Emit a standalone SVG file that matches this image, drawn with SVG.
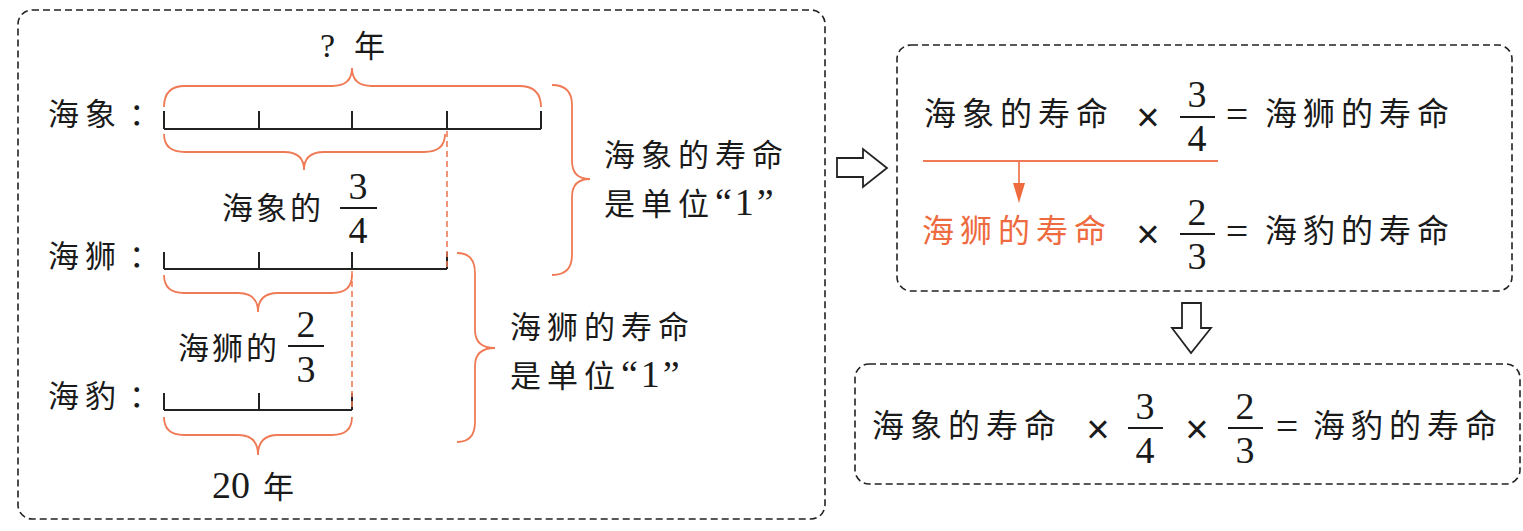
<svg xmlns="http://www.w3.org/2000/svg" width="1523" height="531" viewBox="0 0 1523 531">
<style>
.box{fill:none;stroke:#222;stroke-width:1.6;stroke-dasharray:7 4}
.bar{fill:none;stroke:#222;stroke-width:2}
.brace{fill:none;stroke:#EF7A55;stroke-width:1.8}
.dash{fill:none;stroke:#EF7A55;stroke-width:1.6;stroke-dasharray:6 4}
.cn{font-family:"Noto Sans CJK SC","Noto Sans CJK JP",sans-serif;font-size:31px;letter-spacing:6px;fill:#1a1a1a}
.cn2{font-family:"Noto Sans CJK SC","Noto Sans CJK JP",sans-serif;font-size:32px;letter-spacing:6px;fill:#1a1a1a}
.num{font-family:"Liberation Serif",serif;font-size:38px;fill:#1a1a1a;text-anchor:middle}
.op{font-family:"Liberation Sans",sans-serif;font-size:40px;fill:#1a1a1a;text-anchor:middle}
.eq{font-family:"Liberation Serif",serif;font-size:40px;fill:#1a1a1a;text-anchor:middle}
.ser{font-family:"Liberation Serif",serif;font-size:38px}
.frac{stroke:#1a1a1a;stroke-width:2}
.hollow{fill:#fff;stroke:#222;stroke-width:1.8;stroke-linejoin:miter}
</style>

<g id="left-panel">
  <rect class="box" x="18" y="10" width="807" height="509" rx="14"/>
</g>

<g id="label-question">
  <text class="cn" x="320" y="57"><tspan class="ser" style="font-size:34px">?</tspan> 年</text>
</g>

<g id="walrus">
  <text class="cn" x="48" y="125">海象<tspan x="129">：</tspan></text>
  <path class="bar" d="M164,129 H541 M164,111 V129 M259,111 V129 M352,111 V129 M447,111 V129 M541,111 V129"/>
</g>

<g id="sealion">
  <text class="cn" x="48" y="267">海狮<tspan x="129">：</tspan></text>
  <path class="bar" d="M164,269 H447 M164,252 V269 M259,252 V269 M352,252 V269 M447,252 V269"/>
</g>

<g id="seal">
  <text class="cn" x="48" y="407">海豹<tspan x="129">：</tspan></text>
  <path class="bar" d="M164,410 H352 M164,393 V410 M259,393 V410 M352,393 V410"/>
</g>

<g id="label-walrus-frac">
  <text class="cn" x="222" y="219" style="letter-spacing:3px">海象的</text>
  <line class="frac" x1="340" y1="208" x2="377" y2="208"/>
  <text class="num" x="358" y="199">3</text>
  <text class="num" x="358" y="243">4</text>
</g>

<g id="label-sealion-frac">
  <text class="cn" x="178" y="359" style="letter-spacing:3px">海狮的</text>
  <line class="frac" x1="288" y1="346" x2="324" y2="346"/>
  <text class="num" x="306" y="337">2</text>
  <text class="num" x="306" y="382">3</text>
</g>

<g id="label-20">
  <text class="cn" x="212" y="498"><tspan class="ser" style="letter-spacing:0">20</tspan> 年</text>
</g>

<g id="label-walrus-unit">
  <text class="cn" x="604" y="166">海象的寿命</text>
  <text class="cn" x="604" y="215">是单位<tspan class="ser" style="letter-spacing:3px">“1”</tspan></text>
</g>

<g id="label-sealion-unit">
  <text class="cn" x="510" y="338">海狮的寿命</text>
  <text class="cn" x="510" y="387">是单位<tspan class="ser" style="letter-spacing:3px">“1”</tspan></text>
</g>

<g id="box-steps">
  <rect class="box" x="897" y="45" width="615" height="246" rx="14"/>
  <text class="cn2" x="924" y="125">海象的寿命</text>
  <text class="op" x="1148" y="131">×</text>
  <line class="frac" x1="1180" y1="117" x2="1215" y2="117"/>
  <text class="num" x="1197" y="107">3</text>
  <text class="num" x="1197" y="151">4</text>
  <text class="eq" x="1237" y="128">=</text>
  <text class="cn2" x="1265" y="125">海狮的寿命</text>

  <text class="cn2" x="922" y="242" style="fill:#EE6B3F">海狮的寿命</text>
  <text class="op" x="1148" y="248">×</text>
  <line class="frac" x1="1180" y1="234" x2="1215" y2="234"/>
  <text class="num" x="1197" y="225">2</text>
  <text class="num" x="1197" y="269">3</text>
  <text class="eq" x="1237" y="245">=</text>
  <text class="cn2" x="1265" y="242">海豹的寿命</text>
</g>

<g id="box-result">
  <rect class="box" x="855" y="364" width="665" height="120" rx="14"/>
  <text class="cn2" x="872" y="437">海象的寿命</text>
  <text class="op" x="1098" y="443">×</text>
  <line class="frac" x1="1128" y1="428" x2="1163" y2="428"/>
  <text class="num" x="1145" y="419">3</text>
  <text class="num" x="1145" y="463">4</text>
  <text class="op" x="1197" y="443">×</text>
  <line class="frac" x1="1228" y1="428" x2="1263" y2="428"/>
  <text class="num" x="1245" y="419">2</text>
  <text class="num" x="1245" y="463">3</text>
  <text class="eq" x="1287" y="440">=</text>
  <text class="cn2" x="1313" y="437">海豹的寿命</text>
</g>

<g id="connectors">
  <path class="brace" d="M164,107 Q164,86 185,86 L332,86 Q352,86 352,68 Q352,86 372,86 L519,86 Q541,86 541,107"/>
  <path class="brace" d="M164,134 Q164,152 185,152 L284,152 Q304,152 304,170 Q304,152 324,152 L424,152 Q445,152 445,134"/>
  <path class="brace" d="M164,275 Q164,293 184,293 L238,293 Q258,293 258,312 Q258,293 278,293 L332,293 Q352,293 352,275"/>
  <path class="brace" d="M164,417 Q164,435 184,435 L238,435 Q258,435 258,455 Q258,435 278,435 L332,435 Q352,435 352,417"/>
  <path class="brace" d="M552,85 Q572,85 572,105 L572,161 Q572,179 590,179 Q572,179 572,197 L572,255 Q572,275 552,275"/>
  <path class="brace" d="M457,253 Q475,253 475,273 L475,330 Q475,348 495,348 Q475,348 475,366 L475,422 Q475,442 457,442"/>
  <line class="dash" x1="447" y1="131" x2="447" y2="268"/>
  <line class="dash" x1="352" y1="271" x2="352" y2="410"/>
  <line x1="923" y1="161" x2="1218" y2="161" stroke="#EF7A55" stroke-width="1.8"/>
  <line x1="1019" y1="161" x2="1019" y2="186" stroke="#EF7A55" stroke-width="1.8"/>
  <polygon points="1013,183 1025,183 1019,203" fill="#EE6B3F"/>
  <polygon class="hollow" points="837,158 863,158 863,149 887,168 863,187 863,177 837,177"/>
  <polygon class="hollow" points="1182,303 1201,303 1201,328 1211,328 1191,353 1172,328 1182,328"/>
</g>
</svg>
